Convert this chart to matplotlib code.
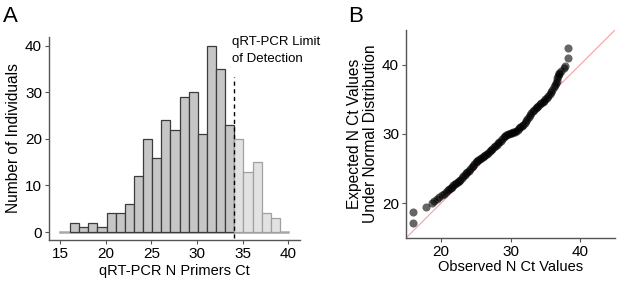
import numpy as np
import matplotlib
matplotlib.use('Agg')
import matplotlib.pyplot as plt

plt.rcParams['font.family'] = ['Liberation Sans', 'DejaVu Sans']

# Panel A: histogram of N primer Ct values (bin width 1)
bin_start = 16.1
counts = [2, 1, 2, 1, 4, 4, 6, 12, 20, 16, 24, 22, 29, 30, 21, 40, 35, 23,
          20, 13, 15, 4, 3]
lod = 34.1

# Panel B: QQ plot, observed Ct vs expected under normal
obs = [16.0, 16.05, 17.8, 18.7, 19.0, 19.4, 19.8, 20.2, 20.5, 20.8,
       21.0, 21.2, 21.4, 21.6, 21.8, 22.0, 22.2, 22.4, 22.6, 22.8,
       23.0, 23.2, 23.4, 23.6, 23.8, 24.0, 24.2, 24.4, 24.6, 24.8,
       25.0, 25.2, 25.4, 25.6, 25.8, 26.0, 26.2, 26.4, 26.6, 26.8,
       27.0, 27.2, 27.4, 27.6, 27.8, 28.0, 28.2, 28.4, 28.6, 28.8,
       29.0, 29.2, 29.4, 29.6, 29.8, 30.0, 30.2, 30.4, 30.6, 30.8,
       31.0, 31.2, 31.4, 31.6, 31.8, 32.0, 32.2, 32.4, 32.6, 32.8,
       33.0, 33.2, 33.4, 33.6, 33.8, 34.0, 34.2, 34.4, 34.6, 34.8,
       35.0, 35.2, 35.4, 35.6, 35.8, 36.0, 36.2, 36.35, 36.5, 36.6,
       36.7, 36.8, 36.9, 37.0, 37.3, 37.6, 37.8, 38.2, 38.2]
expected = [17.2, 18.7, 19.5, 20.0, 20.3, 20.6, 20.9, 21.2, 21.4, 21.7,
            21.9, 22.0, 22.2, 22.4, 22.6, 22.8, 22.9, 23.05, 23.2, 23.4,
            23.6, 23.9, 24.1, 24.3, 24.5, 24.7, 25.0, 25.2, 25.4, 25.7,
            25.9, 26.05, 26.2, 26.35, 26.5, 26.65, 26.8, 27.0, 27.15, 27.3,
            27.5, 27.7, 27.9, 28.1, 28.25, 28.4, 28.65, 28.85, 29.0, 29.2,
            29.5, 29.7, 29.9, 30.0, 30.05, 30.1, 30.2, 30.25, 30.35, 30.45,
            30.6, 30.8, 31.0, 31.15, 31.3, 31.55, 31.9, 32.2, 32.5, 32.8,
            33.05, 33.3, 33.5, 33.7, 33.9, 34.1, 34.25, 34.4, 34.6, 34.8,
            35.0, 35.25, 35.5, 35.75, 36.0, 36.3, 36.7, 37.0, 37.3, 37.7,
            38.0, 38.3, 38.6, 38.8, 39.1, 39.5, 39.8, 40.9, 42.4]

fig = plt.figure(figsize=(6.17, 2.82), dpi=100)
axA = fig.add_axes([0.0794, 0.149, 0.407, 0.72])
axB = fig.add_axes([0.658, 0.156, 0.339, 0.738])

# --- A ---
lefts = bin_start + np.arange(len(counts))
axA.plot([15, 40], [0, 0], color='#a8a8a8', lw=1.8, zorder=1)
for l, c in zip(lefts, counts):
    if l < lod:
        axA.bar(l, c, width=1, align='edge', color='#c6c6c6', edgecolor='#3c3c3c', lw=0.9, zorder=2)
    else:
        axA.bar(l, c, width=1, align='edge', color='#e2e2e2', edgecolor='#a0a0a0', lw=0.9, zorder=2)
axA.plot([lod, lod], [-1.3, 33.3], color='black', lw=1, ls=(0, (3, 2.5)), zorder=3)
axA.text(33.85, 42.0, 'qRT-PCR Limit\nof Detection', fontsize=9.5, va='top', ha='left',
         linespacing=1.45, clip_on=False)
axA.set_xlim(13.8, 41.3)
axA.set_ylim(-1.7, 41.9)
axA.set_xticks([15, 20, 25, 30, 35, 40])
axA.set_yticks([0, 10, 20, 30, 40])
axA.set_xlabel('qRT-PCR N Primers Ct', fontsize=10.5, labelpad=2)
axA.set_ylabel('Number of Individuals', fontsize=11.2, labelpad=3)

# --- B ---
axB.plot([15, 45], [15, 45], color='#f2a0a6', lw=0.8, zorder=1)
axB.scatter(obs, expected, s=34, color='black', alpha=0.6, lw=0, zorder=2)
axB.set_xlim(15, 45)
axB.set_ylim(15, 45)
axB.set_xticks([20, 30, 40])
axB.set_yticks([20, 30, 40])
axB.set_xlabel('Observed N Ct Values', fontsize=10.5, labelpad=1)
axB.set_ylabel('Expected N Ct Values\nUnder Normal Distribution', fontsize=11.2, labelpad=3,
               linespacing=1.1)

for ax in (axA, axB):
    for s in ('top', 'right'):
        ax.spines[s].set_visible(False)
    for s in ('left', 'bottom'):
        ax.spines[s].set_color('#555555')
        ax.spines[s].set_linewidth(1)
    ax.tick_params(labelsize=11, length=3, width=0.8, color='#555555', pad=2)

fig.text(0.005, 0.98, 'A', fontsize=16, va='top', ha='left')
fig.text(0.565, 0.98, 'B', fontsize=16, va='top', ha='left')

fig.savefig('out.png', dpi=100)
